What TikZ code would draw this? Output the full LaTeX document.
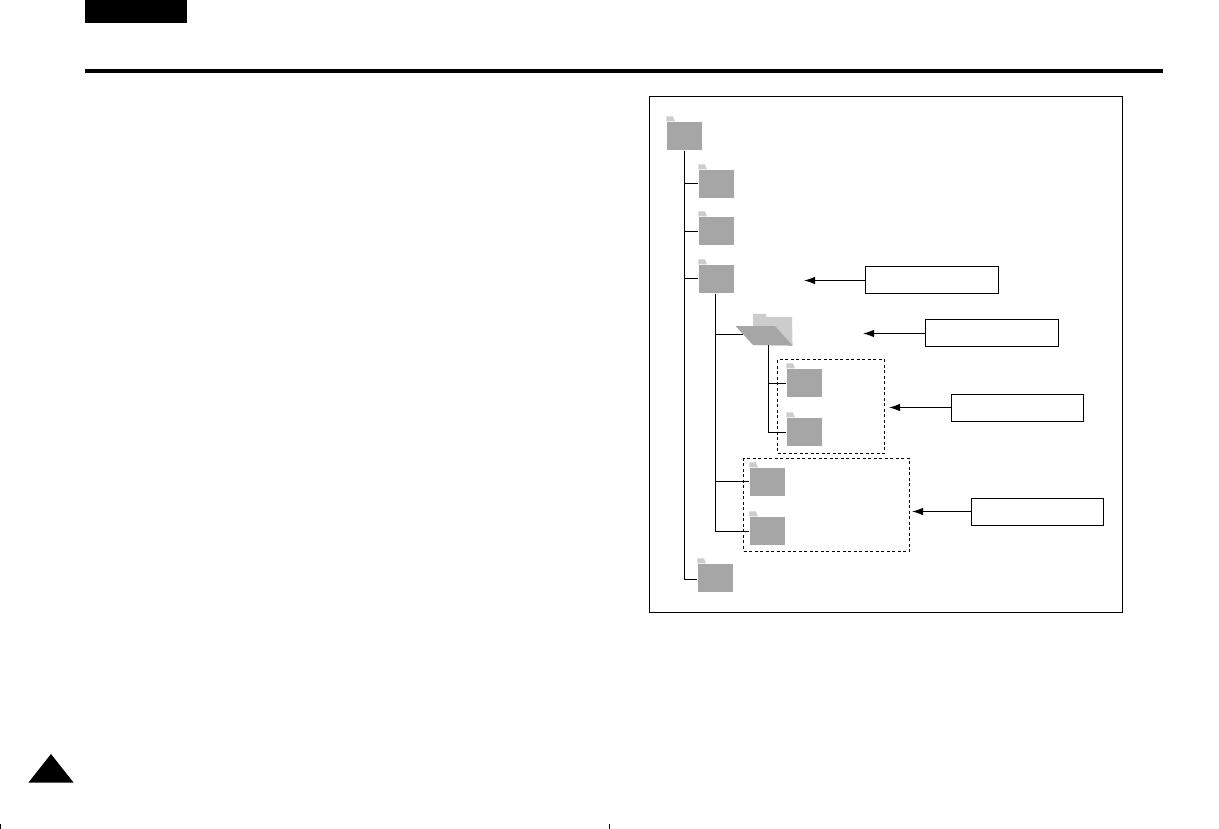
\documentclass[tikz,border=0pt]{standalone}
\usetikzlibrary{calc, arrows.meta}
\definecolor{fdgray}{HTML}{A6A6A6}
\definecolor{tabgray}{HTML}{CCCCCC}

\begin{document}
\begin{tikzpicture}[x=1pt,y=-1pt,line width=1.1pt,
    fd/.style={rectangle, fill=fdgray, inner sep=0pt, minimum width=35pt, minimum height=28pt},
    cb/.style={rectangle, draw, line width=.9pt, inner sep=0pt, minimum width=133pt, minimum height=27pt},
    db/.style={rectangle, draw, dashed, line width=.9pt, dash pattern=on 3pt off 2.5pt, inner sep=0pt},
    ar/.style={-{Latex[length=11pt,width=7.5pt]}}]
            \useasboundingbox (0,0) rectangle (1219,829);
            \fill[white] (0,0) rectangle (1219,829);

            % page furniture
            \fill (85,0) rectangle (187,23);
            \fill (85,69) rectangle (1163,73);
            \fill (51,754) -- (73.5,782.5) -- (28.5,782.5) -- cycle;
            \draw[line width=.8pt] (.5,824) -- (.5,829);
            \draw[line width=.8pt] (609.5,824) -- (609.5,829);
            \draw[line width=.9pt] (649.5,96.5) rectangle (1122.5,612.5);

            % folders
            \node[fd] (root) at (684.5,136) {};
            \node[fd] (f1) at (716.5,184) {};
            \node[fd] (f2) at (716.5,231) {};
            \node[fd] (f3) at (716.5,279) {};
            \node[fd] (f4) at (715.5,578) {};
            \node[fd] (d1) at (804.5,383) {};
            \node[fd] (d2) at (804.5,432) {};
            \node[fd] (g1) at (767.5,482) {};
            \node[fd] (g2) at (767.5,531) {};
            \foreach \n in {root,f1,f2,f3,f4,d1,d2,g1,g2}
                \fill[tabgray] (\n.north west) -- ++(0,-5) -- ++(6.5,0) -- ++(2,5) -- cycle;

            % open folder
            \node[inner sep=0pt, minimum width=57pt, minimum height=31pt] (open) at (763.5,329.5) {};
            \fill[tabgray] (753,345) -- (753,314) -- (766,314) -- (766,317) -- (792,317) -- (open.south east) -- cycle;
            \fill[fdgray] (735.5,326) -- (775,326) -- (open.south east) -- (753,345) -- cycle;
            \coordinate (openl) at (743,334.5);
            \coordinate (openb) at (768.5,345);

            % tree lines
            \draw (root.south) |- ([yshift=.5pt]f1.west);
            \draw (root.south) |- ([yshift=-.5pt]f2.west);
            \draw (root.south) |- ([yshift=.5pt]f3.west);
            \draw (root.south) |- ([yshift=-1.5pt]f4.west);
            \draw ([xshift=-1pt]f3.south) |- (openl);
            \draw ([xshift=-1pt]f3.south) |- ([yshift=.5pt]g1.west);
            \draw ([xshift=-1pt]f3.south) |- ([yshift=-.5pt]g2.west);
            \draw (openb) |- ([yshift=-.5pt]d1.west);
            \draw (openb) |- ([yshift=-.5pt]d2.west);

            % dashed groups
            \node[db, minimum width=107pt, minimum height=93.5pt] (dd) at (831,406.25) {};
            \node[db, minimum width=166pt, minimum height=92.5pt] (dg) at (826.5,504.75) {};

            % callouts
            \node[cb] (c1) at (931.5,280) {};
            \node[cb] (c2) at (991.5,333) {};
            \node[cb, minimum width=132pt] (c3) at (1017,407.5) {};
            \node[cb, minimum width=132pt] (c4) at (1037,511.5) {};
            \coordinate (t1) at (804,280.5);
            \coordinate (t2) at (863,333.5);
            \coordinate (t3) at (889,407.5);
            \coordinate (t4) at (912,511.5);
            \draw[ar] ([yshift=-.5pt]c1.west) -- (t1);
            \draw[ar] ([yshift=-.5pt]c2.west) -- (t2);
            \draw[ar] (c3) -- (t3);
            \draw[ar] (c4) -- (t4);
\end{tikzpicture}
\end{document}
